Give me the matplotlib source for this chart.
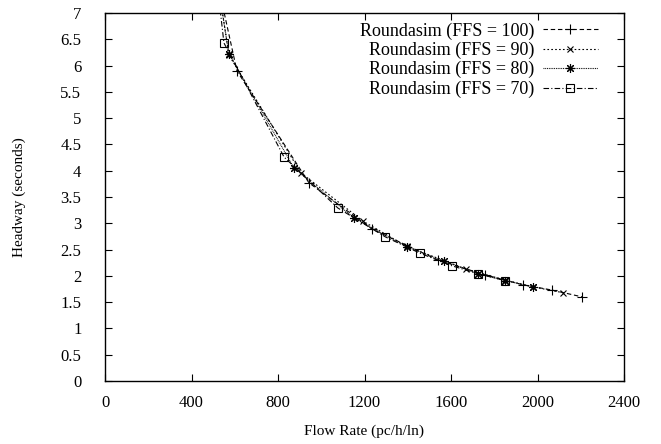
import matplotlib
matplotlib.use("Agg")
import matplotlib.pyplot as plt

# Flow rate (pc/h/ln) and headway (s)
flow_100 = [530, 610, 943, 1235, 1540, 1757, 1933, 2067, 2206]
head_100 = [7.40, 5.90, 3.77, 2.89, 2.30, 2.02, 1.83, 1.73, 1.60]

flow_90 = [525, 573, 906, 1193, 1396, 1669, 1850, 1979, 2118]
head_90 = [7.50, 6.20, 3.96, 3.04, 2.56, 2.13, 1.92, 1.79, 1.68]

flow_80 = [520, 573, 874, 1151, 1396, 1568, 1725, 1850, 1979]
head_80 = [7.60, 6.22, 4.05, 3.10, 2.55, 2.28, 2.04, 1.91, 1.79]

flow_70 = [515, 550, 828, 1077, 1297, 1457, 1605, 1725, 1850]
head_70 = [7.70, 6.43, 4.26, 3.29, 2.74, 2.43, 2.19, 2.04, 1.91]

labels = ["Roundasim (FFS = 100)", "Roundasim (FFS = 90)",
          "Roundasim (FFS = 80)", "Roundasim (FFS = 70)"]
x_ticks = [0, 400, 800, 1200, 1600, 2000, 2400]
y_ticks = [0, 0.5, 1, 1.5, 2, 2.5, 3, 3.5, 4, 4.5, 5, 5.5, 6, 6.5, 7]
y_ticklabels = ["0", "0.5", "1", "1.5", "2", "2.5", "3", "3.5", "4", "4.5",
                "5", "5.5", "6", "6.5", "7"]

plt.rcParams['font.family'] = ['Liberation Serif', 'DejaVu Serif']
plt.rcParams['font.size'] = 11

fig = plt.figure(figsize=(6.61, 4.44), dpi=100)
ax = fig.add_axes([105/661, 63/444, 519/661, 368/444])

lw = 0.8
ax.plot(flow_100, head_100, color='black', lw=lw, dashes=(4, 2.5),
        marker='+', ms=6.5, mew=0.8, label=labels[0])
ax.plot(flow_90, head_90, color='black', lw=lw, dashes=(1.5, 2),
        marker='x', ms=4.5, mew=0.8, label=labels[1])
ax.plot(flow_80, head_80, color='black', lw=lw, dashes=(0.8, 0.8),
        marker=(8, 2, 0), ms=6.5, mew=0.8, label=labels[2])
ax.plot(flow_70, head_70, color='black', lw=lw, dashes=(5, 2, 1, 2),
        marker='s', ms=5.5, mew=0.8, mfc='none', label=labels[3])

ax.set_xlim(0, 2400)
ax.set_ylim(0, 7)
ax.set_xticks(x_ticks)
ax.set_xticklabels([str(t) for t in x_ticks])
ax.set_yticks(y_ticks)
ax.set_yticklabels(y_ticklabels)
ax.tick_params(direction='in', length=5, width=0.8, top=True, right=True,
               labelsize=12, colors='black')
ax.tick_params(axis='y', pad=17)
ax.tick_params(axis='x', pad=10)
for s in ax.spines.values():
    s.set_linewidth(1.0)

ax.set_xlabel("Flow Rate (pc/h/ln)", fontsize=11, labelpad=10)
ax.set_ylabel("Headway (seconds)", fontsize=11, labelpad=25)

leg = ax.legend(loc='upper right', bbox_to_anchor=((598 - 105) / 519, 0.975),
                markerfirst=False, frameon=False, numpoints=1,
                handlelength=3.05, handletextpad=0.5, labelspacing=0.12,
                fontsize=13, borderaxespad=0.0, borderpad=0.0)

fig.savefig("out.png", dpi=100)
